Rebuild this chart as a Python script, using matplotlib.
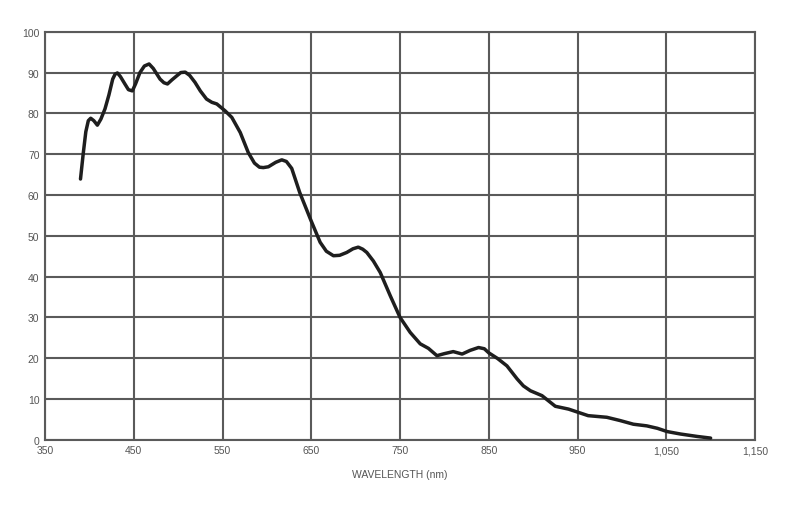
import matplotlib.pyplot as plt
from matplotlib.ticker import FuncFormatter

# spectral response curve
wavelength = [390, 393, 396, 398.8, 401.5, 405, 409, 413, 417.6, 422, 426.3, 429, 431.6, 435,
              440, 444, 448.4, 452, 457, 462, 467.3, 472, 479.6, 484, 488, 493, 498.5, 503,
              508, 513, 519, 525, 532, 538, 543.6, 553, 560.5, 570, 579, 586, 591.6, 596,
              601.7, 610, 616.8, 622, 628, 637, 649, 660, 667, 675, 682, 690, 697, 703, 708,
              712.6, 720, 727.7, 739, 750, 761.5, 772.8, 782, 791.6, 800, 810, 820, 829,
              838.5, 845, 850, 860, 870.5, 882, 889, 897, 910, 925, 940, 951, 962, 983, 998,
              1013, 1028, 1040, 1051, 1066, 1085, 1100]
response = [63.9, 70, 75.5, 78.2, 78.8, 78.2, 77.1, 78.6, 81.1, 84.5, 88.4, 89.6, 89.9, 89.0,
            87.2, 85.8, 85.5, 87.2, 90.0, 91.6, 92.1, 91.0, 88.4, 87.5, 87.2, 88.2, 89.2, 90.0,
            90.1, 89.3, 87.6, 85.5, 83.5, 82.7, 82.3, 80.6, 79.0, 75.3, 70.4, 67.8, 66.8, 66.7,
            66.9, 68.0, 68.6, 68.2, 66.5, 60.6, 54.1, 48.4, 46.2, 45.1, 45.2, 45.9, 46.8, 47.2,
            46.7, 45.9, 43.8, 41.0, 35.3, 30.0, 26.3, 23.5, 22.4, 20.6, 21.1, 21.6, 21.0, 21.9,
            22.6, 22.3, 21.3, 19.9, 18.1, 14.9, 13.2, 12.0, 10.8, 8.2, 7.5, 6.7, 5.9, 5.5, 4.7,
            3.8, 3.4, 2.8, 2.0, 1.4, 0.8, 0.4]

x_ticks = list(range(350, 1151, 100))
y_ticks = list(range(0, 101, 10))

plt.rcParams['font.family'] = ['Liberation Sans', 'DejaVu Sans']

fig = plt.figure(figsize=(8, 5.06), dpi=100)
ax = fig.add_axes([0.05625, 0.129, 0.8875, 0.8063])

ax.plot(wavelength, response, color='#1e1e1e', lw=2.5, solid_joinstyle='round',
        solid_capstyle='round', zorder=3)

ax.set_xlim(350, 1150)
ax.set_ylim(0, 100)
ax.set_xticks(x_ticks)
ax.set_yticks(y_ticks)
ax.xaxis.set_major_formatter(FuncFormatter(lambda v, p: f'{int(v):,}'))
ax.grid(True, color='#5a5a5a', lw=1.5)
ax.set_axisbelow(True)
for s in ax.spines.values():
    s.set_color('#5a5a5a')
    s.set_linewidth(1.5)
ax.tick_params(length=0, labelsize=7.5, labelcolor='#555555', pad=4)
ax.set_xlabel('WAVELENGTH (nm)', fontsize=7.5, color='#555555', labelpad=10)

fig.savefig('out.png', dpi=100)
